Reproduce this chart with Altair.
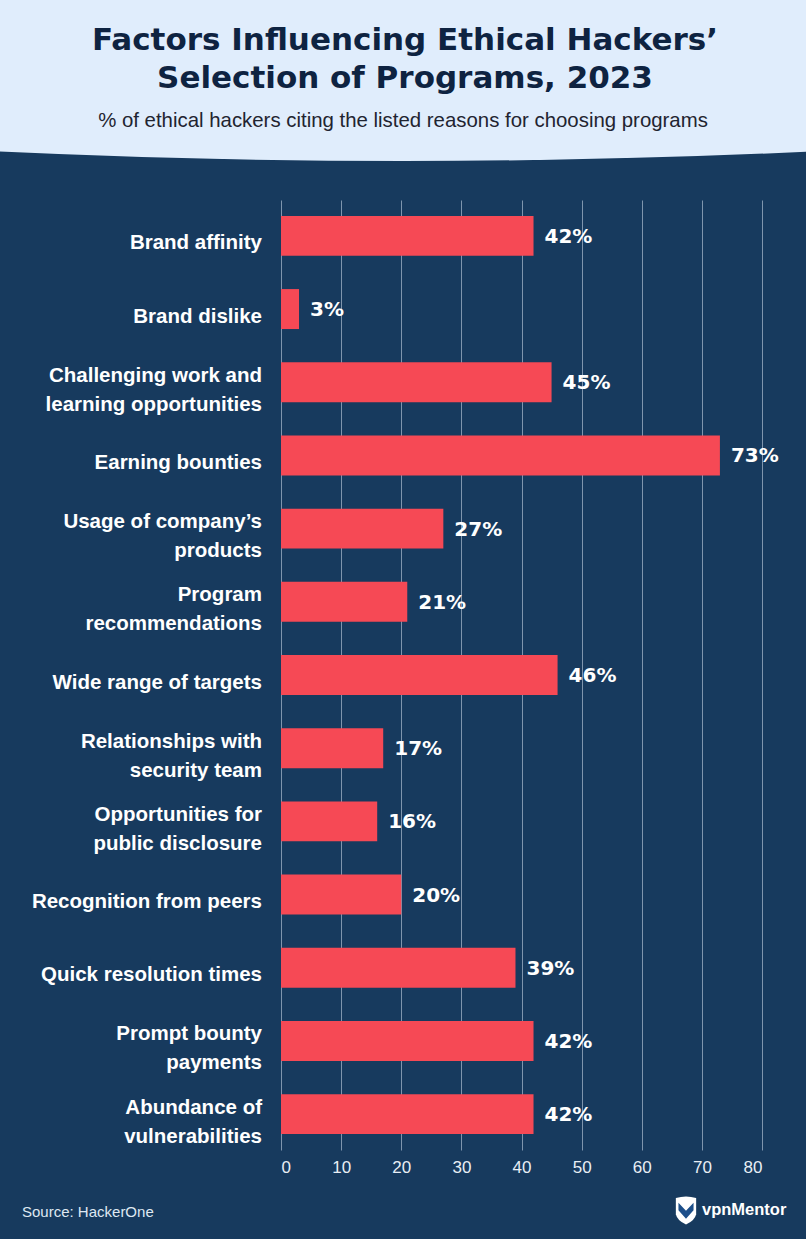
import altair as alt
import pandas as pd

categories = [
    "Brand affinity",
    "Brand dislike",
    "Challenging work and\nlearning opportunities",
    "Earning bounties",
    "Usage of company’s\nproducts",
    "Program\nrecommendations",
    "Wide range of targets",
    "Relationships with\nsecurity team",
    "Opportunities for\npublic disclosure",
    "Recognition from peers",
    "Quick resolution times",
    "Prompt bounty\npayments",
    "Abundance of\nvulnerabilities",
]
values = [42, 3, 45, 73, 27, 21, 46, 17, 16, 20, 39, 42, 42]
x_ticks = [0, 10, 20, 30, 40, 50, 60, 70, 80]

title_lines = ["Factors Influencing Ethical Hackers’", "Selection of Programs, 2023"]
subtitle = "% of ethical hackers citing the listed reasons for choosing programs"
source = "Source: HackerOne"
brand = "vpnMentor"

NAVY = "#173a5e"
HEADER = "#e0edfc"
BAR = "#f64955"
GRID = "#7f95ad"
TITLE_C = "#0e2341"

PL, PT, PW, PH = 281, 200, 481, 950
R = 8700

df = pd.DataFrame({"factor": categories, "value": values,
                   "label": [f"{v}%" for v in values]})

x = alt.X("value:Q",
          scale=alt.Scale(domain=[0, 80], nice=False, zero=True),
          axis=alt.Axis(values=x_ticks, grid=True, gridColor=GRID, gridWidth=1,
                        domain=False, ticks=False, labelColor="#e8eef5",
                        labelFont="Liberation Sans", labelFontSize=17,
                        labelPadding=9, title=None))
y = alt.Y("factor:N", sort=categories,
          scale=alt.Scale(paddingInner=0.454, paddingOuter=0.217),
          axis=alt.Axis(domain=False, ticks=False, grid=False, labels=False,
                        title=None))


def one(s):
    return alt.Data(values=[{"t": s}])


def txt(s, xpx, ypx, **kw):
    return alt.Chart(one(s)).mark_text(**kw).encode(
        x=alt.value(xpx - PL), y=alt.value(ypx - PT), text="t:N")


header = alt.Chart(one("h")).mark_arc(
    color=HEADER, radius=R, theta=0, theta2=6.2832
).encode(x=alt.value(404 - PL), y=alt.value(161 - R - PT))

t1 = txt(title_lines[0], 405, 50, align="center", baseline="alphabetic",
         font="DejaVu Sans", fontWeight="bold", fontSize=31, color=TITLE_C)
t2 = txt(title_lines[1], 405, 88, align="center", baseline="alphabetic",
         font="DejaVu Sans", fontWeight="bold", fontSize=31, color=TITLE_C)
sub = txt(subtitle, 403, 127, align="center", baseline="alphabetic",
          font="Liberation Sans", fontSize=20.4, color="#1f2430")

bars = alt.Chart(df).mark_bar(color=BAR).encode(x=x, y=y)
labels = alt.Chart(df).mark_text(
    align="left", baseline="middle", dx=11, dy=1, font="DejaVu Sans",
    fontWeight="bold", fontSize=20, color="white"
).encode(x=x, y=y, text="label:N")

# category labels (left of the plot), one text layer per line position
cat_style = dict(align="right", baseline="middle", font="Liberation Sans",
                 fontWeight="bold", fontSize=20.5, color="white")
base_cat = alt.Chart(df).transform_calculate(
    parts="split(datum.factor, '\\n')",
    n="length(split(datum.factor, '\\n'))",
    l1="split(datum.factor, '\\n')[0]",
    l2="length(split(datum.factor, '\\n')) > 1 ? split(datum.factor, '\\n')[1] : ''",
)
cat_single = base_cat.transform_filter("datum.n == 1").mark_text(dy=7.5, **cat_style).encode(
    x=alt.value(-19), y=y, text="l1:N")
cat_two_a = base_cat.transform_filter("datum.n > 1").mark_text(dy=-6.5, **cat_style).encode(
    x=alt.value(-19), y=y, text="l1:N")
cat_two_b = base_cat.transform_filter("datum.n > 1").mark_text(dy=22.5, **cat_style).encode(
    x=alt.value(-19), y=y, text="l2:N")

src = txt(source, 22, 1212, align="left", baseline="middle",
          font="Liberation Sans", fontSize=15, color="#dfe8f2")

shield_path = "M -0.7 -0.82 Q 0 -1.05 0.7 -0.82 L 0.7 0.3 Q 0.6 0.75 0 1 Q -0.6 0.75 -0.7 0.3 Z"
chevron_path = "M -0.52 -0.5 L 0 0.05 L 0.52 -0.5 L 0.52 0.02 L 0 0.6 L -0.52 0.02 Z"
shield = alt.Chart(one("s")).mark_point(
    shape=shield_path, size=841, filled=True, fill="white", strokeWidth=0, opacity=1
).encode(x=alt.value(686 - PL), y=alt.value(1210 - PT))
chevron = alt.Chart(one("c")).mark_point(
    shape=chevron_path, size=841, filled=True, fill="#1d4f8a", strokeWidth=0, opacity=1
).encode(x=alt.value(686 - PL), y=alt.value(1210 - PT))
brand_t = txt(brand, 702, 1210, align="left", baseline="middle",
              font="Liberation Sans", fontWeight="bold", fontSize=16.5, color="white")

chart = alt.layer(
    header, t1, t2, sub, bars, labels, cat_single, cat_two_a, cat_two_b,
    src, shield, chevron, brand_t
).properties(
    width=PW, height=PH,
    autosize=alt.AutoSizeParams(type="none"),
    padding={"left": PL, "top": PT, "right": 806 - PL - PW, "bottom": 1239 - PT - PH},
    background=NAVY,
).configure_view(stroke=None)

chart.save("out.html", embed_options={"renderer": "svg", "actions": False})
